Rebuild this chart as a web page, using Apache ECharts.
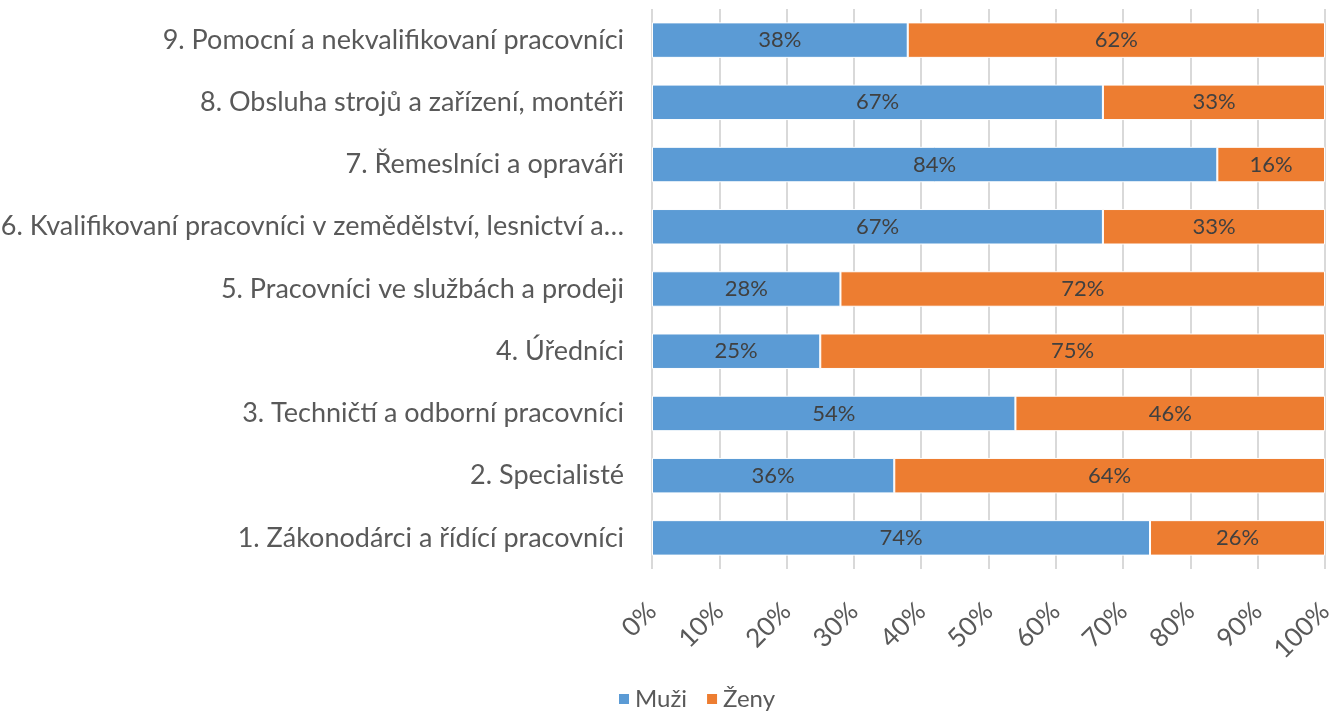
<!DOCTYPE html>
<html>
<head>
<meta charset="utf-8">
<script src="https://cdn.jsdelivr.net/npm/echarts@6/dist/echarts.min.js"></script>
<style>
html,body{margin:0;padding:0;background:#fff;}
#chart{width:1332px;height:711px;}
</style>
</head>
<body>
<div id="chart"></div>
<script>
// Occupational groups (CZ-ISCO), bottom to top
const categories = [
  '1. Zákonodárci a řídící pracovníci',
  '2. Specialisté',
  '3. Techničtí a odborní pracovníci',
  '4. Úředníci',
  '5. Pracovníci ve službách a prodeji',
  '6. Kvalifikovaní pracovníci v zemědělství, lesnictví a…',
  '7. Řemeslníci a opraváři',
  '8. Obsluha strojů a zařízení, montéři',
  '9. Pomocní a nekvalifikovaní pracovníci'
];
// Share of men and women in each group, %
const muzi = [74, 36, 54, 25, 28, 67, 84, 67, 38];
const zeny = [26, 64, 46, 75, 72, 33, 16, 33, 62];
const xTicks = [0, 10, 20, 30, 40, 50, 60, 70, 80, 90, 100];

const FONT = 'Lato';
const chart = echarts.init(document.getElementById('chart'));
const labelStyle = {
  show: true,
  position: 'inside',
  formatter: p => p.value + '%',
  color: '#404040',
  fontFamily: FONT,
  fontSize: 22
};
chart.setOption({
  animation: false,
  textStyle: { fontFamily: FONT },
  grid: {
    left: 652, right: 7, top: 9, height: 560,
    containLabel: false, outerBoundsMode: 'none'
  },
  legend: {
    top: 682,
    left: 612,
    itemWidth: 12,
    itemHeight: 12,
    itemGap: 18,
    icon: 'rect',
    textStyle: { color: '#595959', fontSize: 24, fontFamily: FONT },
    data: ['Muži', 'Ženy']
  },
  xAxis: {
    type: 'value',
    min: xTicks[0],
    max: xTicks[xTicks.length - 1],
    interval: 10,
    axisLine: { show: false },
    axisTick: { show: false },
    splitLine: { show: true, lineStyle: { color: '#d9d9d9', width: 2 } },
    axisLabel: {
      rotate: 45,
      margin: 38,
      color: '#595959',
      fontSize: 26,
      fontFamily: FONT,
      formatter: v => v + '%'
    }
  },
  yAxis: {
    type: 'category',
    data: categories,
    axisLine: { show: false },
    axisTick: { show: false },
    axisLabel: { color: '#595959', fontSize: 27, fontFamily: FONT, margin: 28 }
  },
  series: [
    {
      name: 'Muži', type: 'bar', stack: 'total', data: muzi,
      barWidth: '57%',
      itemStyle: { color: '#5b9bd5', borderColor: '#ffffff', borderWidth: 1 },
      label: labelStyle
    },
    {
      name: 'Ženy', type: 'bar', stack: 'total', data: zeny,
      itemStyle: { color: '#ed7d31', borderColor: '#ffffff', borderWidth: 1 },
      label: labelStyle
    }
  ]
});
</script>
</body>
</html>
